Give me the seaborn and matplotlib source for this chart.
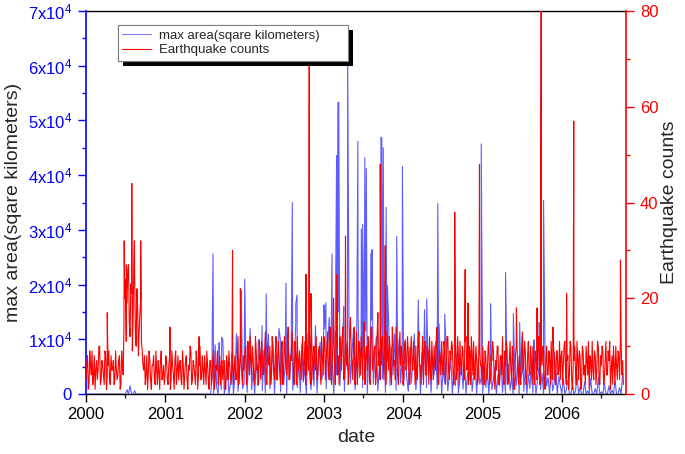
import pandas as pd
import seaborn as sns
import matplotlib.pyplot as plt
import matplotlib.dates as mdates
import matplotlib.patheffects as pe
from matplotlib.ticker import MultipleLocator

start = '2000-01-01'

# earthquake counts: one sample per week ...
quake_2000 = [3, 8, 2, 6, 9, 4, 1, 7, 5, 10, 3, 6, 2, 8, 4, 9, 2, 5, 7, 3, 5, 4, 8, 2, 6,
              14, 24, 19, 27, 12, 21, 16, 25, 10, 18, 13, 20, 9,
              5, 2, 8, 4, 7, 1, 6, 3, 9, 2, 5, 7, 3, 6]
quake_2001 = [4, 7, 2, 8, 3, 6, 1, 9, 5, 3, 7, 2, 6, 4, 8, 1, 5, 9, 3, 6, 2, 7, 4, 10, 3, 5,
              8, 2, 6, 1, 7, 4, 9, 3, 5, 2, 8, 6, 3, 7, 1, 5, 9, 4, 6, 2, 8, 3, 12, 5, 7, 2]
quake_2002 = [5, 10, 3, 8, 12, 4, 7, 2, 9, 6, 11, 3, 8, 5, 13, 2, 7, 10, 4, 9, 3, 12, 6, 8, 2, 11,
              5, 9, 4, 14, 3, 7, 10, 2, 8, 12, 5, 6, 9, 3, 11, 4, 8, 13, 2, 7, 10, 5, 3, 9, 6, 12]
quake_2003 = [4, 11, 7, 13, 3, 9, 6, 15, 2, 10, 8, 12, 5, 14, 3, 9, 11, 4, 16, 7, 10, 2, 13, 6, 9, 12,
              3, 15, 8, 5, 11, 2, 14, 7, 10, 4, 17, 9, 6, 12, 3, 8, 13, 5, 10, 2, 11, 7, 14, 4, 9, 6]
quake_2004 = [8, 3, 11, 6, 9, 2, 12, 5, 7, 10, 3, 13, 6, 8, 2, 11, 4, 9, 12, 3, 7, 10, 5, 14, 2, 8,
              11, 4, 9, 6, 12, 3, 7, 10, 2, 13, 5, 8, 11, 4, 9, 3, 12, 6, 10, 2, 8, 11, 5, 7, 3, 9]
quake_2005 = [6, 10, 2, 8, 4, 11, 3, 7, 9, 1, 5, 10, 3, 8, 12, 2, 6, 9, 4, 11, 3, 7, 1, 10, 5, 8,
              2, 13, 6, 9, 3, 11, 4, 7, 10, 2, 8, 5, 12, 3, 6, 9, 1, 10, 4, 7, 11, 3, 8, 2, 9, 5]
quake_2006 = [3, 9, 6, 11, 2, 8, 4, 10, 1, 7, 5, 11, 3, 8, 2, 9, 6, 10, 4, 1, 7,
              11, 3, 8, 5, 10, 2, 6, 9, 3, 11, 4, 7, 1, 8, 10, 2, 6, 9, 3, 11, 7]

# ... and one more in the middle of each week
quake_mid_2000 = [6, 1, 9, 4, 2, 8, 5, 3, 10, 2, 7, 4, 9, 1, 6, 3, 8, 5, 2, 9, 3, 7, 1, 9, 4,
                  20, 11, 26, 15, 23, 9, 28, 13, 22, 8, 17, 11, 6,
                  8, 4, 1, 9, 3, 6, 8, 2, 5, 7, 1, 9, 4, 2]
quake_mid_2001 = [8, 3, 6, 1, 9, 4, 7, 2, 8, 6, 3, 9, 1, 7, 3, 6, 10, 2, 7, 4, 9, 1, 6, 3, 8, 2,
                  5, 9, 3, 7, 2, 8, 1, 6, 9, 4, 2, 7, 5, 1, 8, 3, 6, 2, 9, 5, 3, 7, 2, 9, 4, 8]
quake_mid_2002 = [9, 2, 11, 4, 7, 10, 3, 12, 5, 2, 8, 11, 4, 9, 3, 10, 6, 2, 12, 5, 8, 3, 11, 4, 9, 2,
                  12, 6, 10, 3, 8, 13, 5, 11, 2, 7, 9, 3, 12, 6, 2, 10, 5, 8, 11, 3, 7, 12, 4, 10, 2, 8]
quake_mid_2003 = [12, 3, 10, 5, 14, 2, 11, 7, 13, 4, 2, 9, 12, 3, 10, 6, 2, 13, 8, 3, 14, 6, 2, 11, 4, 8,
                  13, 2, 10, 12, 3, 14, 5, 9, 2, 12, 6, 3, 11, 8, 13, 2, 9, 12, 4, 14, 6, 3, 9, 2, 13, 10]
quake_mid_2004 = [2, 10, 5, 12, 3, 9, 6, 11, 2, 4, 11, 6, 2, 12, 9, 4, 10, 2, 5, 11, 3, 6, 12, 2, 9, 4,
                  6, 11, 2, 12, 5, 9, 11, 4, 8, 3, 12, 2, 6, 10, 3, 11, 5, 2, 9, 12, 4, 3, 10, 2, 11, 6]
quake_mid_2005 = [2, 5, 9, 3, 10, 2, 8, 11, 4, 7, 10, 2, 8, 4, 3, 9, 11, 2, 7, 5, 10, 1, 8, 11, 2, 4,
                  9, 5, 11, 2, 8, 4, 10, 2, 5, 9, 3, 11, 2, 8, 10, 3, 7, 4, 9, 2, 5, 10, 3, 9, 4, 11]
quake_mid_2006 = [8, 2, 10, 4, 7, 1, 11, 3, 6, 10, 2, 7, 9, 1, 10, 4, 2, 7, 11, 8, 3,
                  5, 9, 2, 11, 3, 8, 10, 2, 7, 4, 9, 11, 5, 2, 6, 10, 3, 8, 11, 4, 2]

# single-day peaks of the earthquake counts
quake_peak_dates = ['2000-04-08', '2000-06-25', '2000-07-05', '2000-07-30', '2000-08-11',
                    '2000-09-09', '2001-01-22', '2001-06-05', '2001-11-06', '2001-12-12',
                    '2002-10-10', '2002-10-25', '2002-11-02', '2003-02-14', '2003-03-01',
                    '2003-04-10', '2003-09-17', '2003-10-10', '2004-08-25', '2004-10-12',
                    '2004-10-25', '2004-12-17', '2005-06-05', '2005-09-08', '2005-09-27',
                    '2005-11-20', '2006-01-22', '2006-02-24', '2006-09-27']
quake_peak_counts = [17, 32, 27, 44, 32,
                     32, 14, 12, 30, 22,
                     25, 70, 21, 20, 25,
                     33, 48, 31, 38, 26,
                     19, 48, 18, 18, 85,
                     14, 21, 57, 28]

# weekly max area (blue band under the red one)
area_2000 = [0, 0, 0, 0, 0, 0, 0, 0, 0, 0, 0, 0, 0,
             0, 0, 0, 0, 0, 0, 0, 0, 0, 0, 0, 0, 0,
             0, 800, 0, 1500, 0, 0, 600, 0, 0, 0, 0, 0, 0,
             0, 0, 0, 0, 0, 0, 0, 0, 0, 0, 0, 0, 0]
area_2001 = [0, 0, 0, 0, 0, 0, 0, 0, 0, 0, 0, 0, 0,
             0, 0, 0, 0, 0, 0, 0, 0, 0, 0, 0, 0, 0, 0, 0, 0, 0, 0,
             3000, 0, 9000, 1200, 0, 5000, 800, 10000, 0, 2500, 6000,
             0, 1800, 7500, 0, 3200, 11000, 500, 4000, 8000, 1000]
area_2002 = [2000, 9000, 300, 6000, 12000, 800, 4500, 0, 7000, 1500,
             10000, 3000, 600, 8000, 200, 5500, 11000, 1000, 3500, 9500,
             0, 6500, 2500, 12000, 400, 7500, 1800, 5000, 0, 10500,
             3000, 8500, 700, 4000, 13000, 1200, 6000, 300, 9000, 2200,
             5000, 0, 11000, 3800, 800, 7000, 1500, 12500, 200, 6000, 9500, 2500]
area_2003 = [4000, 12000, 1000, 8500, 14000, 2500, 6000, 0, 10000, 3500,
             15000, 1500, 7000, 11000, 500, 9000, 4500, 13000, 2000, 7500,
             12000, 800, 5500, 14500, 3000, 9500, 1200, 6500, 11500, 0,
             8000, 4000, 13500, 1800, 7000, 10500, 600, 5000, 12500, 2800,
             9000, 300, 6000, 14000, 1500, 8500, 3500, 11000, 700, 5500, 10000, 2000]
area_2004 = [7000, 1500, 10000, 3000, 500, 8500, 2000, 6000, 11000, 800,
             4500, 9000, 0, 7500, 2500, 10500, 1200, 5500, 8000, 300,
             6500, 3500, 9500, 1000, 4000, 7000, 0, 5000, 2000, 8000,
             600, 3500, 6500, 0, 4500, 1500, 7500, 200, 3000, 5500,
             900, 6000, 0, 4000, 2500, 7000, 500, 3500, 5000, 0, 6500, 1800]
area_2005 = [3000, 0, 5500, 1200, 4000, 0, 6500, 800, 2500, 5000,
             0, 3500, 1500, 6000, 300, 4500, 0, 2000, 5500, 700,
             3000, 0, 4800, 1500, 6200, 0, 2800, 4000, 500, 5200,
             0, 3500, 1000, 6000, 200, 4200, 0, 2500, 5000, 800,
             3800, 0, 6500, 1500, 3000, 0, 4500, 600, 2000, 5000, 0, 3200]
area_2006 = [1500, 0, 3000, 0, 800, 2500, 0, 0, 1800, 0,
             500, 3500, 0, 1200, 0, 0, 2200, 0, 600, 0,
             2800, 0, 0, 1000, 0, 3000, 0, 400, 0, 2000,
             0, 0, 1500, 0, 700, 0, 2500, 0, 0, 1200, 0, 3500]

# single-day peaks of the max area
area_peak_dates = ['2001-08-04', '2001-08-08', '2001-09-05', '2001-09-17', '2001-12-16',
                   '2002-01-01', '2002-03-05', '2002-03-22', '2002-04-10', '2002-06-14',
                   '2002-07-10', '2002-08-08', '2002-08-24', '2002-08-30', '2003-01-01',
                   '2003-01-10', '2003-02-07', '2003-02-28', '2003-03-06', '2003-03-10',
                   '2003-04-02', '2003-04-20', '2003-06-06', '2003-06-22', '2003-06-28',
                   '2003-07-08', '2003-07-15', '2003-08-05', '2003-08-10', '2003-09-20',
                   '2003-09-24', '2003-10-01', '2003-10-14', '2003-10-20', '2003-12-02',
                   '2003-12-28', '2004-03-10', '2004-04-08', '2004-04-18', '2004-06-08',
                   '2004-06-14', '2004-07-10', '2004-12-25', '2005-02-06', '2005-04-16',
                   '2005-05-22', '2005-06-20', '2005-07-03', '2005-08-25', '2005-09-18',
                   '2005-10-08', '2005-11-26']
area_peak_values = [9700, 25600, 9400, 10400, 18900,
                    21000, 9700, 12500, 18300, 10000,
                    20300, 35000, 16500, 18100, 16300,
                    16700, 25600, 43600, 53300, 53300,
                    16000, 63000, 46200, 30200, 31000,
                    43200, 41200, 25700, 26400, 46900,
                    46900, 45000, 34100, 19800, 28800,
                    41600, 17200, 15400, 17400, 34800,
                    12800, 14600, 45700, 16500, 22200,
                    14700, 13100, 10500, 9900, 13100,
                    35400, 7600]

area_ticks = [0, 10000, 20000, 30000, 40000, 50000, 60000, 70000]
area_tick_labels = ['0', '1x10$^4$', '2x10$^4$', '3x10$^4$', '4x10$^4$',
                    '5x10$^4$', '6x10$^4$', '7x10$^4$']
count_ticks = [0, 20, 40, 60, 80]


def build(weekly, peak_dates, peak_values, midweek=None):
    weeks = pd.date_range(start, periods=len(weekly), freq='7D')
    parts = [pd.DataFrame({'date': weeks, 'value': weekly}),
             pd.DataFrame({'date': pd.to_datetime(peak_dates), 'value': peak_values})]
    if midweek is not None:
        parts.append(pd.DataFrame({'date': weeks + pd.Timedelta(hours=84), 'value': midweek}))
    return pd.concat(parts).sort_values('date').reset_index(drop=True)


quakes = build(quake_2000 + quake_2001 + quake_2002 + quake_2003 + quake_2004 + quake_2005 + quake_2006,
               quake_peak_dates, quake_peak_counts,
               quake_mid_2000 + quake_mid_2001 + quake_mid_2002 + quake_mid_2003 + quake_mid_2004
               + quake_mid_2005 + quake_mid_2006)
area = build(area_2000 + area_2001 + area_2002 + area_2003 + area_2004 + area_2005 + area_2006,
             area_peak_dates, area_peak_values)

sns.set_style('ticks')
plt.rcParams['font.family'] = ['Liberation Sans', 'DejaVu Sans']
plt.rcParams['mathtext.default'] = 'regular'

fig = plt.figure(figsize=(6.85, 4.54), dpi=100)
ax1 = fig.add_axes([0.1255, 0.132, 0.7885, 0.8438])
ax2 = ax1.twinx()

sns.lineplot(data=area, x='date', y='value', ax=ax1, color='#3535ff', lw=0.8, alpha=0.8,
             estimator=None, legend=False)
sns.lineplot(data=quakes, x='date', y='value', ax=ax2, color='#ff0000', lw=0.8,
             estimator=None, legend=False)

ax1.set_xlim(pd.Timestamp('2000-01-01'), pd.Timestamp('2006-10-23'))
ax1.set_ylim(0, 70000)
ax2.set_ylim(0, 80)

ax1.xaxis.set_major_locator(mdates.YearLocator())
ax1.xaxis.set_major_formatter(mdates.DateFormatter('%Y'))
ax1.xaxis.set_minor_locator(mdates.MonthLocator(bymonth=7))
ax1.set_yticks(area_ticks, area_tick_labels)
ax1.yaxis.set_minor_locator(MultipleLocator(5000))
ax2.set_yticks(count_ticks)
ax2.yaxis.set_minor_locator(MultipleLocator(10))

ax1.tick_params(axis='x', which='major', length=6, width=1, labelsize=12, pad=3, colors='black')
ax1.tick_params(axis='x', which='minor', length=3, width=1)
ax1.tick_params(axis='y', which='major', length=6, width=1, labelsize=12, pad=4, colors='blue')
ax1.tick_params(axis='y', which='minor', length=3, width=1, colors='blue')
ax2.tick_params(axis='y', which='major', length=6, width=1, labelsize=12, pad=4, colors='red')
ax2.tick_params(axis='y', which='minor', length=3, width=1, colors='red')

for sp in ['top', 'bottom']:
    ax1.spines[sp].set_color('black')
    ax1.spines[sp].set_linewidth(1.0)
    ax2.spines[sp].set_visible(False)
ax1.spines['right'].set_visible(False)
ax1.spines['left'].set_color('blue')
ax1.spines['left'].set_linewidth(1.2)
ax2.spines['left'].set_visible(False)
ax2.spines['right'].set_color('red')
ax2.spines['right'].set_linewidth(1.2)

ax1.set_xlabel('date', fontsize=14, labelpad=5)
ax1.set_ylabel('max area(sqare kilometers)', fontsize=14, labelpad=4)
ax2.set_ylabel('Earthquake counts', fontsize=14, labelpad=2)

leg = ax2.legend([ax1.get_lines()[0], ax2.get_lines()[0]],
                 ['max area(sqare kilometers)', 'Earthquake counts'],
                 loc='upper left', bbox_to_anchor=(0.059, 0.963 - 0.1, 0.426, 0.1),
                 mode='expand', borderaxespad=0,
                 fontsize=9.5, frameon=True, fancybox=False, handlelength=2.2,
                 borderpad=0.35, labelspacing=0.15, handletextpad=0.6)
leg.get_frame().set_edgecolor('#808080')
leg.get_frame().set_linewidth(0.8)
leg.get_frame().set_alpha(1)
leg.legendPatch.set_path_effects([pe.withSimplePatchShadow(offset=(3.5, -3.5), shadow_rgbFace='black',
                                                           alpha=1.0), pe.Normal()])
for h in leg.get_lines():
    h.set_alpha(1)
leg.get_lines()[0].set_color('#8080ff')

plt.savefig('out.png', dpi=100)
